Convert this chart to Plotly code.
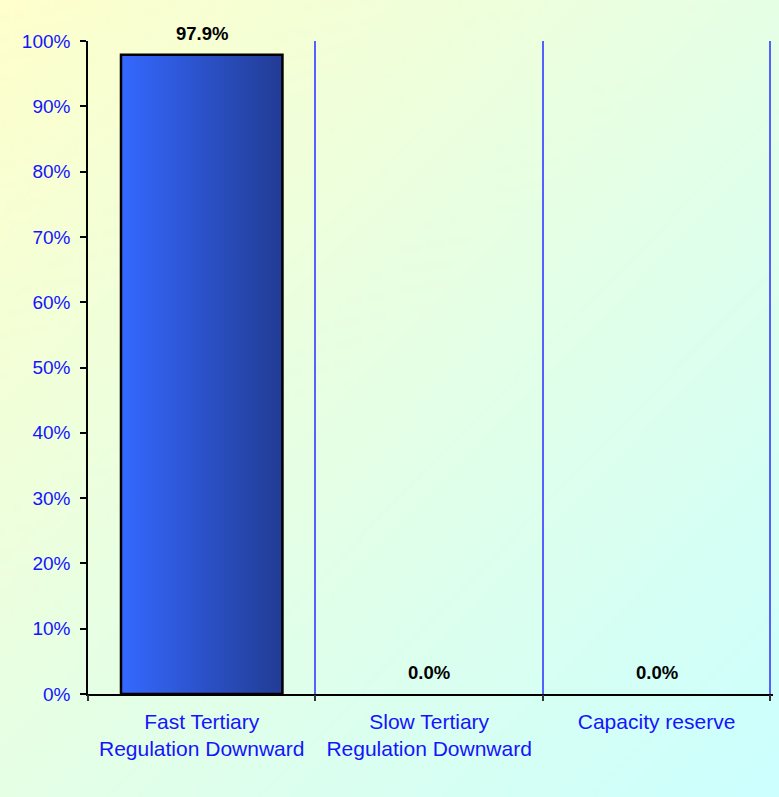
import base64
import struct
import zlib

import numpy as np
import plotly.graph_objects as go

categories = ["Fast Tertiary<br>Regulation Downward",
              "Slow Tertiary<br>Regulation Downward",
              "Capacity reserve"]
values = [97.9, 0.0, 0.0]
tick_vals = [0, 10, 20, 30, 40, 50, 60, 70, 80, 90, 100]
tick_text = [f"{v}%" for v in tick_vals]


def gradient_png(w, h, c0, c1):
    # diagonal gradient top-left -> bottom-right
    yy, xx = np.mgrid[0:h, 0:w]
    t = (xx / (w - 1) + yy / (h - 1)) / 2.0
    c0 = np.array(c0, float)
    c1 = np.array(c1, float)
    img = (c0[None, None, :] * (1 - t[..., None]) + c1[None, None, :] * t[..., None]).astype(np.uint8)
    raw = b"".join(b"\x00" + img[r].tobytes() for r in range(h))

    def chunk(tag, data):
        c = struct.pack(">I", len(data)) + tag + data
        return c + struct.pack(">I", zlib.crc32(tag + data) & 0xFFFFFFFF)

    png = b"\x89PNG\r\n\x1a\n"
    png += chunk(b"IHDR", struct.pack(">IIBBBBB", w, h, 8, 2, 0, 0, 0))
    png += chunk(b"IDAT", zlib.compress(raw, 9))
    png += chunk(b"IEND", b"")
    return "data:image/png;base64," + base64.b64encode(png).decode()


bg = gradient_png(195, 200, (255, 255, 204), (204, 255, 255))

W, H = 779, 797
ML, MR, MT, MB = 88, 6, 41, 103
pw, ph = W - ML - MR, H - MT - MB

idx = list(range(len(categories)))
bar_w = 0.71
xr = [-0.5, len(categories) - 0.5 + 0.012]

fig = go.Figure()

for i, v in zip(idx, values):
    if v > 0:
        fig.add_trace(go.Scatter(
            x=[i - bar_w / 2, i - bar_w / 2, i + bar_w / 2, i + bar_w / 2, i - bar_w / 2],
            y=[0, v, v, 0, 0],
            mode="lines", fill="toself",
            fillgradient=dict(type="horizontal",
                              colorscale=[[0, "#3468FF"], [1, "#223C94"]]),
            line=dict(color="black", width=2.5),
            hoverinfo="skip", showlegend=False))

# hidden trace to bind secondary x axis (boundary ticks / gridlines)
fig.add_trace(go.Scatter(x=xr, y=[0, 0], xaxis="x2", mode="lines",
                         line=dict(width=0), hoverinfo="skip", showlegend=False))

for i, v in zip(idx, values):
    fig.add_annotation(x=i, y=v, text=f"<b>{v:.1f}%</b>", showarrow=False,
                       yanchor="bottom", yshift=9,
                       font=dict(family="Arial, Liberation Sans", size=18.5, color="black"))

fig.add_layout_image(dict(source=bg, xref="paper", yref="paper",
                          x=-ML / pw, y=1 + MT / ph, sizex=W / pw, sizey=H / ph,
                          xanchor="left", yanchor="top",
                          sizing="stretch", layer="below"))

fig.update_layout(
    width=W, height=H,
    margin=dict(l=ML, r=MR, t=MT, b=MB),
    paper_bgcolor="#E8FFE6",
    plot_bgcolor="rgba(0,0,0,0)",
    font=dict(family="Arial, Liberation Sans", color="#1414FF"),
    xaxis=dict(range=xr, tickvals=idx, ticktext=categories,
               ticks="", showgrid=False, zeroline=False, ticklabelstandoff=8,
               showline=True, linecolor="black", linewidth=1.5,
               tickfont=dict(size=21, color="#1414FF"), fixedrange=True),
    xaxis2=dict(range=xr, overlaying="x", side="bottom",
                tickvals=[k - 0.5 for k in range(len(categories) + 1)],
                showticklabels=False,
                ticks="outside", ticklen=6, tickcolor="#333333", tickwidth=1.5,
                showgrid=True, gridcolor="#5560FF", gridwidth=1.5,
                zeroline=False, showline=False, fixedrange=True),
    yaxis=dict(range=[0, 100], tickvals=tick_vals, ticktext=tick_text,
               ticks="outside", ticklen=6, tickcolor="black", tickwidth=1.5,
               ticklabelstandoff=6,
               showgrid=False, zeroline=False, showline=True,
               linecolor="black", linewidth=1.5, fixedrange=True,
               tickfont=dict(size=19, color="#1414FF")),
)

fig.write_html("out.html", config={"displayModeBar": False},
               post_script="document.body.style.margin='0';document.body.style.overflow='hidden';")
